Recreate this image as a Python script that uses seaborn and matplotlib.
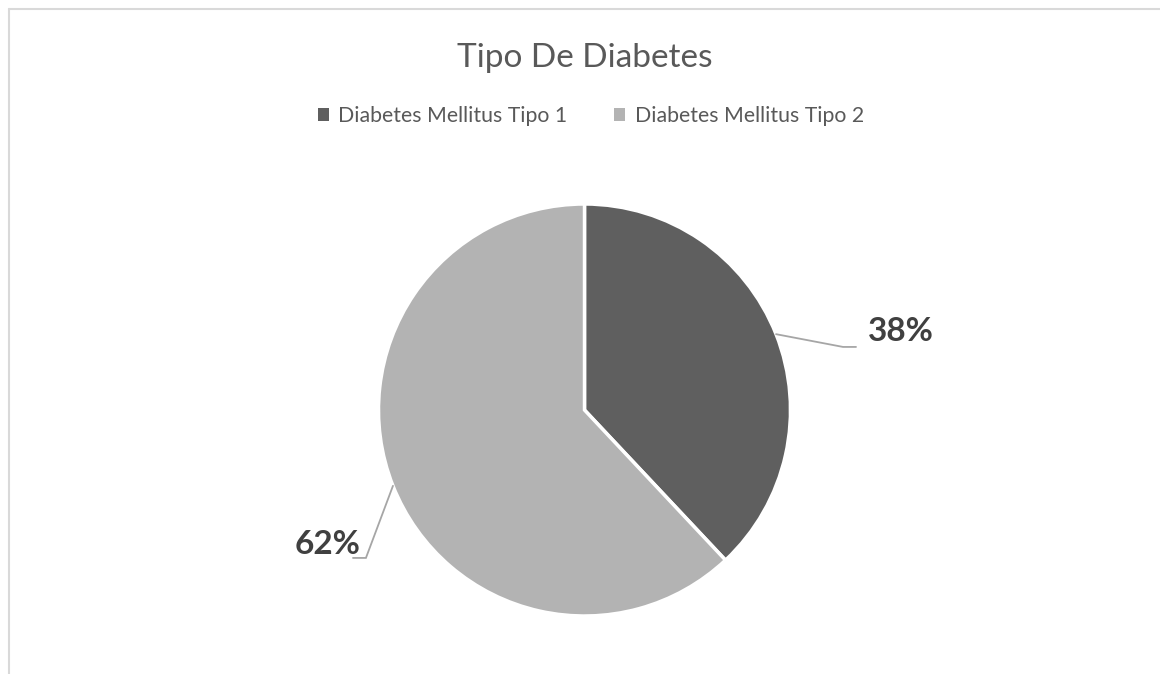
import numpy as np
import matplotlib
matplotlib.use("Agg")
import matplotlib.pyplot as plt
from matplotlib.patches import Patch
from matplotlib.lines import Line2D
import seaborn as sns

# Data
categories = ["Diabetes Mellitus Tipo 1", "Diabetes Mellitus Tipo 2"]
shares = [38, 62]
title_text = "Tipo De Diabetes"

sns.set_theme(style="white")
plt.rcParams["font.family"] = ["Lato", "DejaVu Sans"]

colors = sns.color_palette(["#5f5f5f", "#b3b3b3"])
text_gray = "#595959"
label_gray = "#404040"
line_gray = "#a6a6a6"

W, H = 1160, 674
fig = plt.figure(figsize=(W / 100, H / 100), dpi=100)
fig.patch.set_facecolor("white")

# chart-area frame (top and left edges visible)
fig.add_artist(Line2D([8.5 / W, 1.0], [1 - 8.5 / H, 1 - 8.5 / H], color="#d9d9d9", lw=1.5))
fig.add_artist(Line2D([8.5 / W, 8.5 / W], [0.0, 1 - 8.5 / H], color="#d9d9d9", lw=1.5))

# pie axes: centre and radius in pixels
cx, cy, r = 584.5, 410, 206
ax = fig.add_axes([(cx - r) / W, (H - cy - r) / H, 2 * r / W, 2 * r / H])
wedges, _ = ax.pie(shares, colors=colors, startangle=90, counterclock=False,
                   wedgeprops=dict(edgecolor="white", linewidth=2.5))
ax.set_xlim(-1, 1)
ax.set_ylim(-1, 1)
ax.set_aspect("equal")
ax.axis("off")

# data labels with leader lines
total = sum(shares)
start = 90.0
for i, v in enumerate(shares):
    sweep = v / total * 360
    mid = np.deg2rad(start - sweep / 2)
    start -= sweep
    ex, ey = np.cos(mid), np.sin(mid)
    side = 1 if ex > 0 else -1
    if side > 0:
        kx, ky = 1.255, ey - 0.062
        hx = 1.318
        tx, ty, ha = 1.376, 0.335, "left"
    else:
        kx, ky = -1.061, ey - 0.35
        hx = -1.124
        tx, ty, ha = -1.085, ky + 0.019, "right"
    ax.plot([ex, kx, hx], [ey, ky, ky], color=line_gray, lw=1.3, clip_on=False,
            solid_joinstyle="miter")
    ax.text(tx, ty, f"{v}%", ha=ha, va="baseline", fontsize=24, fontweight="bold",
            color=label_gray, clip_on=False)

fig.text(585 / W, 1 - 67 / H, title_text, ha="center", va="baseline",
         fontsize=24, color=text_gray)

handles = [Patch(facecolor=c, edgecolor="none") for c in colors]
leg = fig.legend(handles, categories, loc="center", bbox_to_anchor=(591 / W, 1 - 116 / H),
                 ncol=2, frameon=False, fontsize=15.3, handlelength=0.5, handleheight=0.5,
                 handletextpad=0.45, columnspacing=2.2, labelcolor=text_gray)

fig.savefig("out.png", dpi=100, facecolor="white")
